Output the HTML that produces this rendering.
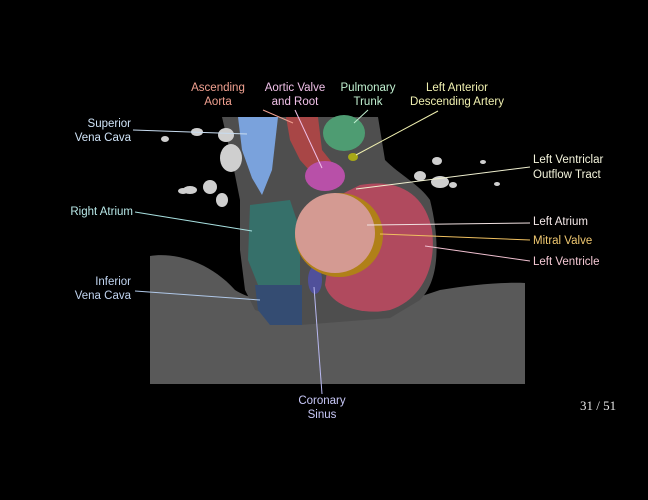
<!DOCTYPE html>
<html><head><meta charset="utf-8"><style>
html,body{margin:0;padding:0;background:#000;width:648px;height:500px;overflow:hidden}
svg{display:block}
text{font-family:"Liberation Sans",sans-serif;font-size:11.5px}
</style></head><body>
<svg width="648" height="500" viewBox="0 0 648 500">
<rect width="648" height="500" fill="#000"/>
<g>
<path d="M150,256 C175,252 210,262 235,290 C250,300 270,300 300,315 L350,318 L370,318 L380,305 L410,300 L440,290 C470,285 500,282 525,283 L525,384 L150,384 Z" fill="#595959"/>
<path d="M222,117 L378,117 L385,160 C400,175 420,185 430,200 C440,240 440,280 420,300 L390,318 L300,325 L255,310 L245,290 L240,250 L240,200 L232,160 Z" fill="#4e4e4e"/>
<g fill="#cfcfcf">
<ellipse cx="231" cy="158" rx="11" ry="14"/><ellipse cx="226" cy="135" rx="8" ry="7"/><ellipse cx="197" cy="132" rx="6" ry="4"/>
<ellipse cx="210" cy="187" rx="7" ry="7"/><ellipse cx="222" cy="200" rx="6" ry="7"/><ellipse cx="190" cy="190" rx="7" ry="4"/>
<ellipse cx="183" cy="191" rx="5" ry="3"/><ellipse cx="165" cy="139" rx="4" ry="3"/>
<ellipse cx="420" cy="176" rx="6" ry="5"/><ellipse cx="440" cy="182" rx="9" ry="6"/><ellipse cx="437" cy="161" rx="5" ry="4"/>
<ellipse cx="453" cy="185" rx="4" ry="3"/><ellipse cx="483" cy="162" rx="3" ry="2"/><ellipse cx="497" cy="184" rx="3" ry="2"/>
</g>
<path d="M238,117 L278,117 L272,170 L262,195 L252,178 L242,150 Z" fill="#7aa2dc"/>
<path d="M286,117 L318,117 L322,150 L338,170 L318,180 L300,160 L290,140 Z" fill="#a84646"/>
<ellipse cx="325" cy="176" rx="20" ry="15" fill="#b850a8"/>
<ellipse cx="344" cy="133" rx="21" ry="18" fill="#4e9c72"/>
<ellipse cx="353" cy="157" rx="5" ry="4" fill="#a8a818"/>
<path d="M360,185 C400,178 425,195 432,230 C437,270 420,300 390,310 C360,316 330,305 325,285 L330,250 L340,195 Z" fill="#b04a5e"/>
<path d="M250,205 L290,200 L300,230 L300,290 L260,290 L248,260 Z" fill="#36706a"/>
<path d="M255,285 L302,285 L302,325 L270,325 L258,310 Z" fill="#344c72"/>
<ellipse cx="315" cy="280" rx="7" ry="14" fill="#50509a"/>
<ellipse cx="339" cy="235" rx="44" ry="42" fill="#b08018"/>
<ellipse cx="335" cy="233" rx="40" ry="40" fill="#d49a92"/>
</g>
<g stroke-width="1" fill="none">
<line x1="133" y1="130" x2="247" y2="134" stroke="#c8dcf0"/>
<line x1="135" y1="212" x2="252" y2="231" stroke="#a8e0e0"/>
<line x1="135" y1="291" x2="260" y2="300" stroke="#b0c8e8"/>
<line x1="322" y1="394" x2="314" y2="287" stroke="#b8b8f0"/>
<line x1="263" y1="110" x2="293" y2="123" stroke="#f0a090"/>
<line x1="295" y1="110" x2="322" y2="168" stroke="#f0c0e8"/>
<line x1="368" y1="110" x2="354" y2="123" stroke="#c0f0d0"/>
<line x1="438" y1="111" x2="356" y2="155" stroke="#f0f0b0"/>
<line x1="530" y1="167" x2="356" y2="189" stroke="#f0f0d0"/>
<line x1="530" y1="223" x2="367" y2="225" stroke="#f0e0e0"/>
<line x1="530" y1="240" x2="380" y2="234" stroke="#f0c060"/>
<line x1="530" y1="261" x2="425" y2="246" stroke="#f0c0d0"/>
</g>
<g text-anchor="middle">
<text x="218" y="91" fill="#f0a090">Ascending</text><text x="218" y="105" fill="#f0a090">Aorta</text>
<text x="295" y="91" fill="#f0c0e8">Aortic Valve</text><text x="295" y="105" fill="#f0c0e8">and Root</text>
<text x="368" y="91" fill="#c0f0d0">Pulmonary</text><text x="368" y="105" fill="#c0f0d0">Trunk</text>
<text x="457" y="91" fill="#f0f0b0">Left Anterior</text><text x="457" y="105" fill="#f0f0b0">Descending Artery</text>
<text x="322" y="404" fill="#c8c8f8">Coronary</text><text x="322" y="418" fill="#c8c8f8">Sinus</text>
</g>
<g text-anchor="end">
<text x="131" y="127" fill="#d0e4f8">Superior</text><text x="131" y="141" fill="#d0e4f8">Vena Cava</text>
<text x="133" y="215" fill="#b8e8e8">Right Atrium</text>
<text x="131" y="285" fill="#c0d4f0">Inferior</text><text x="131" y="299" fill="#c0d4f0">Vena Cava</text>
</g>
<g>
<text x="533" y="163" fill="#f4f4dc">Left Ventriclar</text><text x="533" y="178" fill="#f4f4dc">Outflow Tract</text>
<text x="533" y="225" fill="#f4e8e8">Left Atrium</text>
<text x="533" y="244" fill="#f0c870">Mitral Valve</text>
<text x="533" y="265" fill="#f4c8d4">Left Ventricle</text>
</g>
<text x="580" y="410" fill="#e8e8e8" style="font-family:'Liberation Serif',serif;font-size:13px">31 / 51</text>
</svg>
</body></html>
